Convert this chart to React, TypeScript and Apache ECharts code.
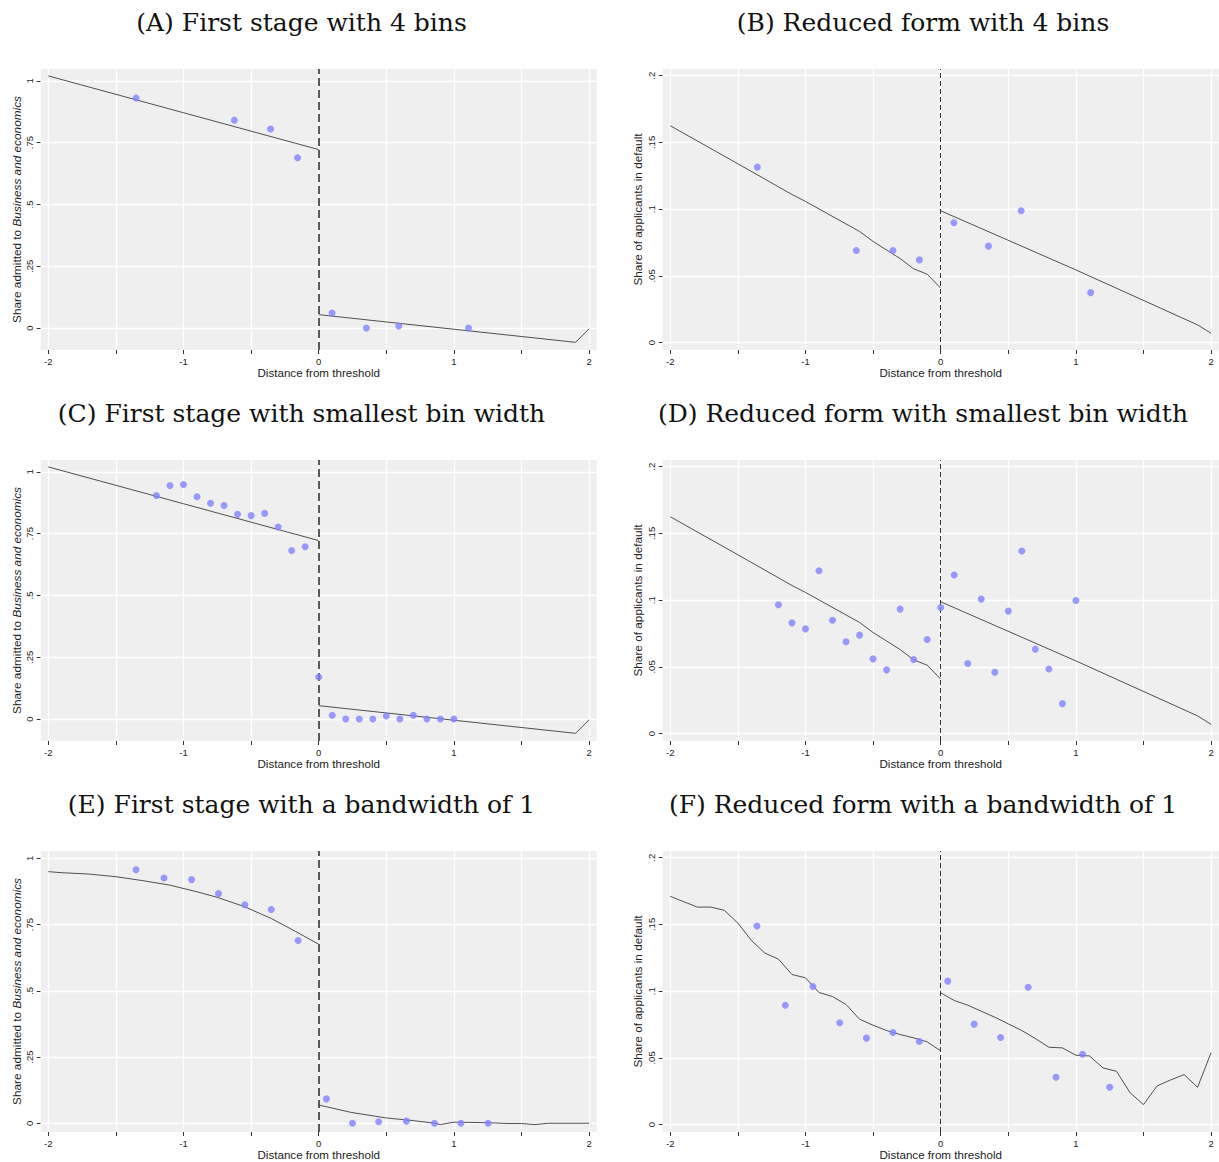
import React, { useEffect, useRef } from "react";
import * as echarts from "echarts";

// ---------- tick definitions ----------
const X_TICKS = [-2, -1.5, -1, -0.5, 0, 0.5, 1, 1.5, 2];
const X_LABELS = [-2, -1, 0, 1, 2];
const Y_TICKS_FS = [0, 0.25, 0.5, 0.75, 1];
const Y_TICKS_RF = [0, 0.05, 0.1, 0.15, 0.2];

const TITLES = [
  "(A) First stage with 4 bins",
  "(B) Reduced form with 4 bins",
  "(C) First stage with smallest bin width",
  "(D) Reduced form with smallest bin width",
  "(E) First stage with a bandwidth of 1",
  "(F) Reduced form with a bandwidth of 1",
];

// ---------- Panel A ----------
const aBinX = [-1.35, -0.624, -0.356, -0.156, 0.099, 0.353, 0.592, 1.108];
const aBinY = [0.931, 0.841, 0.805, 0.689, 0.061, 0.0, 0.008, 0.0];
// first-stage linear fit (A, C)
const fsLeftX = [-2, -1, 0];
const fsLeftY = [1.02, 0.871, 0.722];
const fsRightX = [0, 1.9, 2];
const fsRightY = [0.054, -0.058, -0.003];

// ---------- Panel B ----------
const bBinX = [-1.356, -0.624, -0.353, -0.158, 0.098, 0.353, 0.595, 1.109];
const bBinY = [0.1315, 0.069, 0.069, 0.062, 0.0898, 0.0723, 0.0988, 0.0375];
// reduced-form fit (B, D)
const rfLeftX = [-2, -1.5, -1.1, -1.0, -0.6, -0.5, -0.3, -0.2, -0.1, 0];
const rfLeftY = [0.1625, 0.134, 0.111, 0.1058, 0.0833, 0.0758, 0.063, 0.0553, 0.0513, 0.0408];
const rfRightX = [0, 1, 1.9, 2];
const rfRightY = [0.0988, 0.0545, 0.0133, 0.007];

// ---------- Panel C ----------
const cBinX = [-1.2, -1.1, -1.0, -0.9, -0.8, -0.7, -0.6, -0.5, -0.4, -0.3, -0.2, -0.1, 0, 0.1, 0.2, 0.3, 0.4, 0.5, 0.6, 0.7, 0.8, 0.9, 1.0];
const cBinY = [0.904, 0.945, 0.949, 0.899, 0.873, 0.864, 0.828, 0.823, 0.832, 0.777, 0.682, 0.697, 0.17, 0.015, 0, 0, 0, 0.012, 0, 0.015, 0, 0, 0];

// ---------- Panel D ----------
const dBinX = [-1.2, -1.1, -1.0, -0.9, -0.8, -0.7, -0.6, -0.5, -0.4, -0.3, -0.2, -0.1, 0, 0.1, 0.2, 0.3, 0.4, 0.5, 0.6, 0.7, 0.8, 0.9, 1.0];
const dBinY = [0.0965, 0.083, 0.0785, 0.122, 0.085, 0.0688, 0.0738, 0.056, 0.0478, 0.0933, 0.0555, 0.0705, 0.0945, 0.1188, 0.0525, 0.1008, 0.046, 0.0918, 0.1368, 0.0633, 0.0485, 0.0225, 0.0998];

// ---------- Panel E ----------
const eBinX = [-1.351, -1.144, -0.94, -0.741, -0.546, -0.351, -0.152, 0.057, 0.25, 0.443, 0.649, 0.856, 1.052, 1.253];
const eBinY = [0.957, 0.926, 0.92, 0.867, 0.825, 0.807, 0.69, 0.092, 0, 0.006, 0.008, 0, 0, 0];
const eLeftX = [-2, -1.9, -1.7, -1.5, -1.3, -1.1, -0.9, -0.75, -0.55, -0.35, -0.17, 0];
const eLeftY = [0.95, 0.946, 0.941, 0.931, 0.916, 0.899, 0.874, 0.853, 0.818, 0.773, 0.724, 0.676];
const eRightX = [0, 0.24, 0.5, 0.7, 0.86, 0.9, 1.0, 1.25, 1.4, 1.5, 1.6, 1.7, 2];
const eRightY = [0.069, 0.041, 0.02, 0.01, 0, -0.005, 0.004, 0.002, -0.001, -0.001, -0.005, 0, 0];

// ---------- Panel F ----------
const fBinX = [-1.359, -1.149, -0.945, -0.747, -0.549, -0.353, -0.158, 0.052, 0.247, 0.443, 0.647, 0.853, 1.049, 1.25];
const fBinY = [0.1488, 0.0895, 0.1035, 0.0763, 0.0648, 0.069, 0.0623, 0.1075, 0.0753, 0.0653, 0.103, 0.0355, 0.0528, 0.028];
const fLeftX = [-2, -1.9, -1.8, -1.7, -1.6, -1.5, -1.4, -1.3, -1.2, -1.1, -1.0, -0.9, -0.8, -0.7, -0.6, -0.5, -0.4, -0.3, -0.2, -0.1, 0];
const fLeftY = [0.171, 0.167, 0.163, 0.163, 0.1605, 0.151, 0.138, 0.1285, 0.124, 0.1125, 0.11, 0.099, 0.096, 0.09, 0.079, 0.0745, 0.0705, 0.0675, 0.065, 0.062, 0.0553];
const fRightX = [0, 0.1, 0.2, 0.3, 0.4, 0.5, 0.6, 0.7, 0.8, 0.9, 1.0, 1.1, 1.2, 1.3, 1.4, 1.5, 1.6, 1.7, 1.8, 1.9, 2.0];
const fRightY = [0.0988, 0.093, 0.0895, 0.085, 0.0805, 0.0755, 0.0705, 0.0645, 0.058, 0.0575, 0.052, 0.0515, 0.0425, 0.04, 0.024, 0.015, 0.029, 0.0335, 0.0375, 0.028, 0.054];

const zip = (xs: number[], ys: number[]) => xs.map((x, i) => [x, ys[i]]);

const fmt = (v: number) => {
  if (v === 0) return "0";
  const s = String(Math.round(v * 1000) / 1000);
  return s.replace(/^0\./, ".").replace(/^-0\./, "-.");
};

const FONT = "Liberation Sans";
const TEXT = "#222";
const POINT = "#8282ff";
const FIT = "#505050";

export default function App() {
  const ref = useRef<HTMLDivElement>(null);
  useEffect(() => {
    document.body.style.margin = "0";
    if (!ref.current) return;
    const chart = echarts.init(ref.current, undefined, { renderer: "svg" });

    const panels = [
      { kind: "fs", bins: zip(aBinX, aBinY), left: zip(fsLeftX, fsLeftY), right: zip(fsRightX, fsRightY), yMin: -0.089, yMax: 1.048 },
      { kind: "rf", bins: zip(bBinX, bBinY), left: zip(rfLeftX, rfLeftY), right: zip(rfRightX, rfRightY), yMin: -0.0055, yMax: 0.205 },
      { kind: "fs", bins: zip(cBinX, cBinY), left: zip(fsLeftX, fsLeftY), right: zip(fsRightX, fsRightY), yMin: -0.089, yMax: 1.048 },
      { kind: "rf", bins: zip(dBinX, dBinY), left: zip(rfLeftX, rfLeftY), right: zip(rfRightX, rfRightY), yMin: -0.0055, yMax: 0.205 },
      { kind: "fs", bins: zip(eBinX, eBinY), left: zip(eLeftX, eLeftY), right: zip(eRightX, eRightY), yMin: -0.033, yMax: 1.028 },
      { kind: "rf", bins: zip(fBinX, fBinY), left: zip(fLeftX, fLeftY), right: zip(fRightX, fRightY), yMin: -0.0055, yMax: 0.205 },
    ];

    const rowTops = [69, 460, 851];
    const colLefts = [40.7, 662.7];
    const plotW = 556;
    const plotH = 281;
    const titleX = [301.5, 923];
    const titleY = [22, 413, 804];

    const grids: any[] = [];
    const xAxes: any[] = [];
    const yAxes: any[] = [];
    const series: any[] = [];
    const graphics: any[] = [];

    panels.forEach((p, i) => {
      const row = Math.floor(i / 2);
      const col = i % 2;
      const isFs = p.kind === "fs";
      const yTicks = isFs ? Y_TICKS_FS : Y_TICKS_RF;
      grids.push({
        left: colLefts[col],
        top: rowTops[row],
        width: plotW,
        height: plotH,
        show: true,
        backgroundColor: "#efefef",
        borderWidth: 0,
      });
      xAxes.push({
        type: "value",
        gridIndex: i,
        min: -2.056,
        max: 2.056,
        axisLine: { show: false, onZero: false },
        axisTick: { show: true, customValues: X_TICKS, length: 4, lineStyle: { color: "#333", width: 1 } },
        axisLabel: { customValues: X_LABELS, fontSize: 9.5, color: TEXT, margin: 6, fontFamily: FONT, formatter: fmt },
        splitLine: { show: false },
        name: "Distance from threshold",
        nameLocation: "middle",
        nameGap: 16,
        nameTextStyle: { fontSize: 11.6, color: TEXT, fontFamily: FONT },
      });
      yAxes.push({
        type: "value",
        gridIndex: i,
        min: p.yMin,
        max: p.yMax,
        axisLine: { show: false, onZero: false },
        axisTick: { show: true, customValues: yTicks, length: 4, lineStyle: { color: "#333", width: 1 } },
        axisLabel: { customValues: yTicks, fontSize: 9.5, color: TEXT, margin: 6, rotate: 90, fontFamily: FONT, formatter: fmt },
        splitLine: { show: false },
        name: isFs ? "Share admitted to {i|Business and economics}" : "Share of applicants in default",
        nameLocation: "middle",
        nameGap: isFs ? 18 : 19,
        nameTextStyle: {
          fontSize: 11.8,
          color: TEXT,
          fontFamily: FONT,
          rich: { i: { fontSize: 11.8, color: TEXT, fontFamily: FONT, fontStyle: "italic" } },
        },
      });

      // grid lines (white)
      series.push({
        type: "line",
        xAxisIndex: i,
        yAxisIndex: i,
        data: [],
        showSymbol: false,
        silent: true,
        z: 1,
        markLine: {
          silent: true,
          z: 1,
          symbol: ["none", "none"],
          label: { show: false },
          lineStyle: { color: "#ffffff", width: 1.3, type: "solid" },
          data: [
            ...X_TICKS.map((v) => ({ xAxis: v })),
            ...yTicks.map((v) => ({ yAxis: v })),
          ],
        },
      });
      // fitted lines
      series.push({
        type: "line",
        xAxisIndex: i,
        yAxisIndex: i,
        data: p.left,
        showSymbol: false,
        symbol: "none",
        lineStyle: { color: FIT, width: 1 },
        z: 3,
        silent: true,
      });
      series.push({
        type: "line",
        xAxisIndex: i,
        yAxisIndex: i,
        data: p.right,
        showSymbol: false,
        symbol: "none",
        lineStyle: { color: FIT, width: 1 },
        z: 3,
        silent: true,
      });
      // threshold dashed line
      series.push({
        type: "line",
        xAxisIndex: i,
        yAxisIndex: i,
        data: [],
        showSymbol: false,
        silent: true,
        z: 4,
        markLine: {
          silent: true,
          z: 4,
          symbol: ["none", "none"],
          label: { show: false },
          lineStyle: {
            color: "#333",
            width: col === 0 ? 1.6 : 1,
            type: col === 0 ? [8, 4] : [5, 3],
          },
          data: [{ xAxis: 0 }],
        },
      });
      // bin means
      series.push({
        type: "scatter",
        xAxisIndex: i,
        yAxisIndex: i,
        data: p.bins,
        symbol: "circle",
        symbolSize: 7,
        itemStyle: { color: POINT },
        z: 5,
        silent: true,
      });

      graphics.push({
        type: "text",
        x: titleX[col],
        y: titleY[row],
        style: {
          text: TITLES[i],
          fill: "#111",
          fontSize: 25,
          fontFamily: "DejaVu Serif",
          align: "center",
          verticalAlign: "middle",
          textAlign: "center",
          textVerticalAlign: "middle",
        },
      });
    });

    chart.setOption({
      animation: false,
      backgroundColor: "#ffffff",
      grid: grids,
      xAxis: xAxes,
      yAxis: yAxes,
      series,
      graphic: graphics,
    });
    return () => chart.dispose();
  }, []);
  return <div ref={ref} style={{ width: 1219, height: 1162 }} />;
}
